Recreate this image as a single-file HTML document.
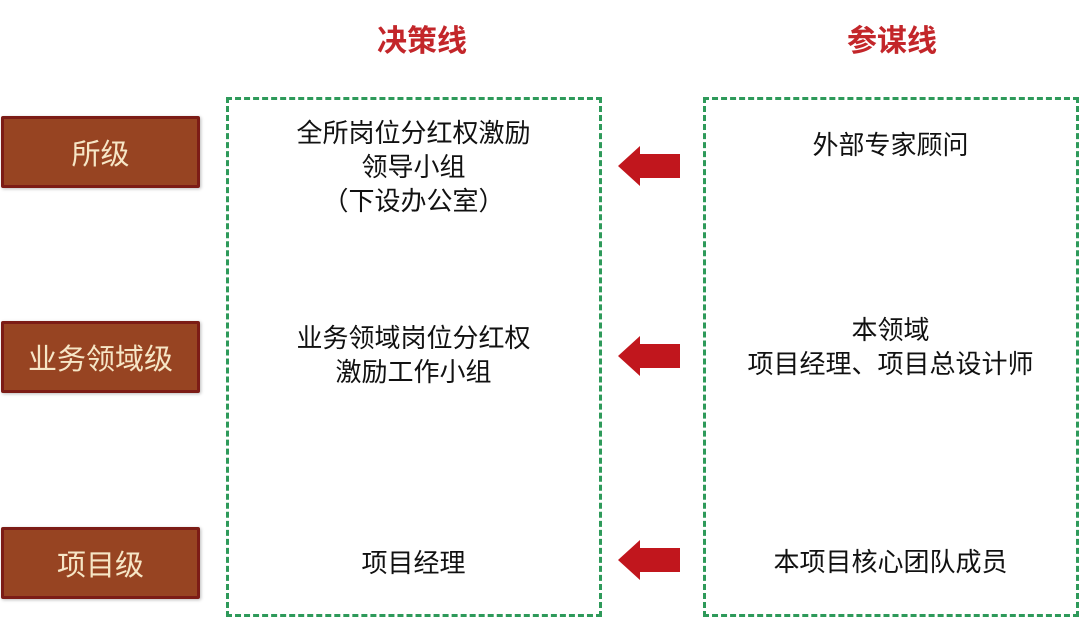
<!DOCTYPE html>
<html><head><meta charset="utf-8"><style>
body{margin:0;width:1080px;height:618px;background:#fff;position:relative;overflow:hidden;font-family:"Liberation Sans","Noto Sans CJK SC",sans-serif;}
.t{position:absolute;color:#c3262a;font-size:30px;font-weight:bold;top:16px;width:200px;text-align:center}
.lv{position:absolute;left:1px;width:193px;height:66px;background:#974422;border:3px solid #7c1c16;border-radius:2px;color:#f6e6c6;font-size:29px;display:flex;align-items:center;justify-content:center;box-shadow:1px 1px 3px #bbb}
.box{position:absolute;top:97px;height:520px;border:3px dashed #2e9a5a;box-sizing:border-box}
.tx{position:absolute;font-size:26px;line-height:34px;color:#111;text-align:center;width:375px}
svg{position:absolute}
</style></head><body>
<div class="t" style="left:322px">决策线</div>
<div class="t" style="left:792px">参谋线</div>
<div class="lv" style="top:116px">所级</div>
<div class="lv" style="top:321px">业务领域级</div>
<div class="lv" style="top:527px">项目级</div>
<div class="box" style="left:226px;width:376px"></div>
<div class="box" style="left:703px;width:376px"></div>
<div class="tx" style="left:226px;top:116px">全所岗位分红权激励<br>领导小组<br>（下设办公室）</div>
<div class="tx" style="left:226px;top:321px">业务领域岗位分红权<br>激励工作小组</div>
<div class="tx" style="left:226px;top:546px">项目经理</div>
<div class="tx" style="left:703px;top:128px">外部专家顾问</div>
<div class="tx" style="left:703px;top:313px">本领域<br>项目经理、项目总设计师</div>
<div class="tx" style="left:703px;top:545px">本项目核心团队成员</div>
<svg width="1080" height="618" style="left:0;top:0">
<g fill="#c1161d">
<polygon points="618,166 640,146 640,154 680,154 680,178 640,178 640,186"/>
<polygon points="618,356 640,336 640,344 680,344 680,368 640,368 640,376"/>
<polygon points="618,560 640,540 640,548 680,548 680,572 640,572 640,580"/>
</g></svg>
</body></html>
